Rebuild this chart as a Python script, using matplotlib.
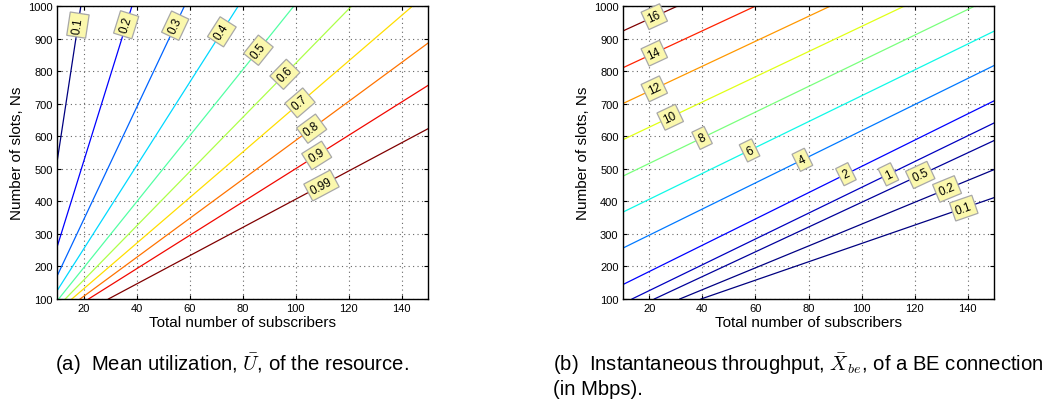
import numpy as np
import matplotlib
matplotlib.use('Agg')
import matplotlib.pyplot as plt

plt.rcParams['font.family'] = ['Liberation Sans', 'DejaVu Sans']
plt.rcParams['mathtext.fontset'] = 'cm'

# (a) mean utilization contours, end points
util_levels = [0.1, 0.2, 0.3, 0.4, 0.5, 0.6, 0.7, 0.8, 0.9, 0.99]
util_x = [[10, 19.0], [10, 38.3], [10, 58.1], [10, 78.4], [10.6, 99.4],
          [13.1, 121.2], [15.6, 144.2], [18.7, 150], [21.9, 150], [29.4, 150]]
util_y = [[520, 1000], [259, 1000], [170, 1000], [125, 1000], [100, 1000],
          [100, 1000], [100, 1000], [100, 886], [100, 756], [100, 623]]
util_label_x = [17.9, 36.1, 54.6, 72.2, 86.0, 96.0, 101.7, 106.1, 108.0, 109.8]

# (b) instantaneous BE throughput contours (Mbps)
thr_levels = [0.1, 0.2, 0.5, 1, 2, 4, 6, 8, 10, 12, 14, 16]
thr_x = [[39.5, 150], [31.5, 150], [21.9, 150], [13.5, 150], [10, 150], [10, 150],
         [10, 150], [10, 142.7], [10, 116.2], [10, 88.3], [10, 60.1], [10, 30.7]]
thr_y = [[100, 411.6], [100, 497.7], [100, 587], [100, 641], [144, 709], [256, 817.5],
         [366.5, 923], [477, 1000], [589, 1000], [700, 1000], [810, 1000], [923, 1000]]
thr_label_x = [138.5, 132.2, 122.1, 110.1, 94.1, 77.7, 57.8, 39.9, 27.9, 21.9, 21.9, 21.9]

xticks = [20, 40, 60, 80, 100, 120, 140]
yticks = [100, 200, 300, 400, 500, 600, 700, 800, 900, 1000]


def draw(ax, levels, xs, ys, label_x):
    norm = plt.Normalize(min(levels), max(levels))
    for lev, x, y, lx in zip(levels, xs, ys, label_x):
        c = plt.cm.jet(norm(lev))
        ax.plot(x, y, color=c, lw=0.9, zorder=2)
        ly = np.interp(lx, x, y)
        ang = np.degrees(np.arctan2(y[-1] - y[0], x[-1] - x[0]))
        ax.text(lx, ly, '%g' % lev, rotation=ang, transform_rotates_text=True,
                rotation_mode='anchor', ha='center', va='center', fontsize=8.5,
                zorder=3,
                bbox=dict(boxstyle='square,pad=0.3', fc='#fbf8ad', ec='#a8a8a8', lw=0.9))
    ax.set_xlim(10, 150)
    ax.set_ylim(100, 1000)
    ax.set_xticks(xticks)
    ax.set_yticks(yticks)
    ax.grid(True, ls=(0, (1, 3)), color='#666666', lw=0.8)
    ax.tick_params(direction='in', length=3, top=True, right=True, labelsize=8, width=0.8, pad=3)
    for s in ax.spines.values():
        s.set_linewidth(1.0)
    ax.set_xlabel('Total number of subscribers', fontsize=11, labelpad=1)
    ax.set_ylabel('Number of slots, Ns', fontsize=11, labelpad=3)


fig = plt.figure(figsize=(10.51, 4.06), dpi=100)
ax1 = fig.add_axes([57 / 1051, 106 / 406, 371 / 1051, 293 / 406])
ax2 = fig.add_axes([622.7 / 1051, 106 / 406, 371.6 / 1051, 293 / 406])

draw(ax1, util_levels, util_x, util_y, util_label_x)
draw(ax2, thr_levels, thr_x, thr_y, thr_label_x)

fig.text(55 / 1051, 1 - 364 / 406, r'(a)  Mean utilization, $\bar{U}$, of the resource.',
         fontsize=14.6, ha='left', va='center')
fig.text(553 / 1051, 1 - 364 / 406, r'(b)  Instantaneous throughput, $\bar{X}_{be}$, of a BE connection',
         fontsize=14.6, ha='left', va='center')
fig.text(553 / 1051, 1 - 390 / 406, '(in Mbps).', fontsize=14.6, ha='left', va='center')

fig.savefig('out.png', dpi=100)
